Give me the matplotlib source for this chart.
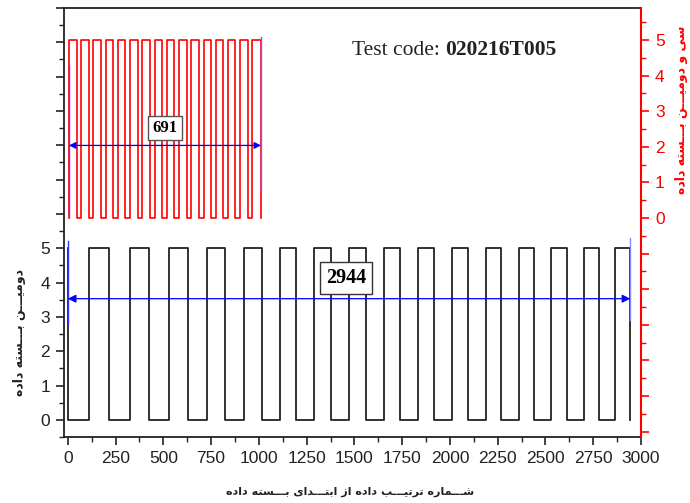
import numpy as np
import matplotlib
matplotlib.use('Agg')
import matplotlib.pyplot as plt
from matplotlib.ticker import MultipleLocator

# second packet (black), sample index edges and levels
black_x = [0, 0, 113, 217, 323, 425, 531, 629, 728, 824, 923, 1014, 1110, 1193, 1291, 1380,
           1474, 1561, 1657, 1741, 1833, 1918, 2009, 2093, 2187, 2267, 2362, 2441, 2531, 2612,
           2702, 2781, 2866, 2944]
black_y = [5, 0, 5, 0, 5, 0, 5, 0, 5, 0, 5, 0, 5, 0, 5, 0, 5,
           0, 5, 0, 5, 0, 5, 0, 5, 0, 5, 0, 5, 0, 5, 0, 5, 0]

# 32nd packet (red), own x scale
red_x = [0, 0, 27, 44, 71, 88, 115, 132, 159, 176, 203, 220, 247, 264, 291, 308, 335,
         352, 379, 396, 423, 440, 467, 484, 511, 528, 555, 572, 599, 616, 643, 660, 691]
red_y = [0, 5, 0, 5, 0, 5, 0, 5, 0, 5, 0, 5, 0, 5, 0, 5, 0,
         5, 0, 5, 0, 5, 0, 5, 0, 5, 0, 5, 0, 5, 0, 5, 0]

black_len = 2944
red_len = 691
test_code = '020216T005'

xlabel = 'شـــماره ترتیـــب داده از ابتـــدای بـــسته داده'
ylabel_left = 'دومیـــن بـــسته داده'
ylabel_right = 'سی و دومیـــن بـــسته داده'

# ---- poor man's arabic shaping (matplotlib has no bidi / shaping)
FORMS = {
    'ا': ('\uFE8D', '\uFE8E', None, None),
    'ب': ('\uFE8F', '\uFE90', '\uFE91', '\uFE92'),
    'ت': ('\uFE95', '\uFE96', '\uFE97', '\uFE98'),
    'د': ('\uFEA9', '\uFEAA', None, None),
    'ر': ('\uFEAD', '\uFEAE', None, None),
    'ز': ('\uFEAF', '\uFEB0', None, None),
    'س': ('\uFEB1', '\uFEB2', '\uFEB3', '\uFEB4'),
    'ش': ('\uFEB5', '\uFEB6', '\uFEB7', '\uFEB8'),
    'م': ('\uFEE1', '\uFEE2', '\uFEE3', '\uFEE4'),
    'ن': ('\uFEE5', '\uFEE6', '\uFEE7', '\uFEE8'),
    'ه': ('\uFEE9', '\uFEEA', '\uFEEB', '\uFEEC'),
    'و': ('\uFEED', '\uFEEE', None, None),
    'ی': ('\uFBFC', '\uFBFD', '\uFBFE', '\uFBFF'),
}
TATWEEL = '\u0640'


def joins_left(c):
    if c == TATWEEL:
        return True
    return c in FORMS and FORMS[c][2] is not None


def joins_right(c):
    return c == TATWEEL or c in FORMS


def shape(txt):
    out = []
    for i, c in enumerate(txt):
        if c not in FORMS:
            out.append(c)
            continue
        prev = i > 0 and joins_left(txt[i - 1])
        nxt = i < len(txt) - 1 and joins_right(txt[i + 1]) and FORMS[c][2] is not None
        iso, fin, ini, med = FORMS[c]
        if prev and nxt:
            out.append(med)
        elif prev:
            out.append(fin)
        elif nxt:
            out.append(ini)
        else:
            out.append(iso)
    return ''.join(out)[::-1]


plt.rcParams['font.family'] = ['Liberation Sans', 'DejaVu Sans']

fig = plt.figure(figsize=(6.9, 5.03), dpi=100)
pos = [64 / 690, 1 - 437 / 503, 577 / 690, 429 / 503]
ax = fig.add_axes(pos)

ax.step(black_x, black_y, where='post', color='#222222', lw=1.3)
ax.set_xlim(-20, 3000)
ax.set_ylim(-0.5, 12.0)
ax.set_xticks(np.arange(0, 3001, 250))
ax.xaxis.set_minor_locator(MultipleLocator(125))
ax.set_yticks(range(0, 13))
ax.set_yticklabels([str(i) for i in range(6)] + [''] * 7)
ax.yaxis.set_minor_locator(MultipleLocator(0.5))
ax.tick_params(axis='both', which='major', length=6, width=1.2, labelsize=12.5,
               colors='#222222', pad=4)
ax.tick_params(axis='both', which='minor', length=3.5, width=1.0, colors='#222222')
for s in ['left', 'bottom', 'top']:
    ax.spines[s].set_linewidth(1.3)
    ax.spines[s].set_color('#222222')
ax.spines['right'].set_visible(False)

# dimension arrow for the black packet
ay = 3.53
ax.plot([0, 0], [2.8, 5.2], color='#3333ff', lw=1)
ax.plot([black_len, black_len], [2.9, 5.3], color='#8888ff', lw=1)
ax.annotate('', xy=(black_len, ay), xytext=(0, ay),
            arrowprops=dict(arrowstyle='<|-|>', color='blue', lw=0.9,
                            mutation_scale=12, shrinkA=0, shrinkB=0))
ax.text(1457, 4.12, str(black_len), ha='center', va='center', fontsize=14.5,
        fontweight='bold', family='Liberation Serif',
        bbox=dict(boxstyle='square,pad=0.3', fc='white', ec='#333333', lw=1))

t1 = ax.text(0.499, 0.902, 'Test code: ', transform=ax.transAxes, ha='left',
             va='center', fontsize=15.5, family='Liberation Serif', color='#222222')
ax.annotate(test_code, xy=(1, 0), xycoords=t1, ha='left', va='bottom',
            fontsize=15.5, fontweight='bold', family='Liberation Serif', color='#222222')

# red packet on its own axes, right spine only
ax2 = fig.add_axes(pos)
ax2.patch.set_visible(False)
ax2.step(red_x, red_y, where='post', color='red', lw=1.2)
ax2.set_xlim(-18, 2058)
ax2.set_ylim(-6.15, 5.9)
for s in ['left', 'bottom', 'top']:
    ax2.spines[s].set_visible(False)
ax2.spines['right'].set_color('red')
ax2.spines['right'].set_linewidth(1.5)
ax2.xaxis.set_visible(False)
ax2.yaxis.tick_right()
ax2.set_yticks(range(-6, 6))
ax2.set_yticklabels([''] * 6 + [str(i) for i in range(6)])
ax2.yaxis.set_minor_locator(MultipleLocator(0.5))
ax2.tick_params(axis='y', which='major', length=6, width=1.2, labelsize=12.5,
                colors='red', pad=4)
ax2.tick_params(axis='y', which='minor', length=3.5, width=1.0, colors='red')

ry = 2.04
ax2.plot([0, 0], [0.03, 4.3], color='#8a2be2', lw=1)
ax2.plot([red_len, red_len], [0.79, 5.08], color='#6666ff', lw=1)
ax2.annotate('', xy=(red_len, ry), xytext=(0, ry),
             arrowprops=dict(arrowstyle='<|-|>', color='blue', lw=0.9,
                             mutation_scale=10, shrinkA=0, shrinkB=0))
ax2.text(345, 2.53, str(red_len), ha='center', va='center', fontsize=12,
         fontweight='bold', family='Liberation Serif',
         bbox=dict(boxstyle='square,pad=0.25', fc='white', ec='#555555', lw=1))

fig.text(350 / 690, 1 - 492 / 503, shape(xlabel), ha='center', va='center',
         fontsize=8, fontweight='bold', family='DejaVu Sans', color='#222222')
fig.text(20 / 690, 1 - 332 / 503, shape(ylabel_left), ha='center', va='center',
         rotation=90, fontsize=9, fontweight='bold', family='DejaVu Sans', color='#222222')
fig.text(682 / 690, 1 - 110 / 503, shape(ylabel_right), ha='center', va='center',
         rotation=90, fontsize=9, fontweight='bold', family='DejaVu Sans', color='red')

fig.savefig('out.png', dpi=100)
